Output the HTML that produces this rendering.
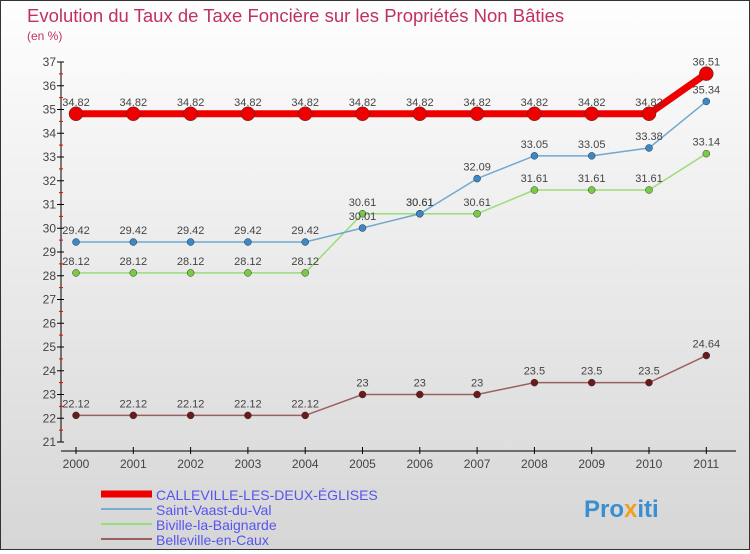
<!DOCTYPE html>
<html><head><meta charset="utf-8"><style>
html,body{margin:0;padding:0}
body{width:750px;height:550px;overflow:hidden;font-family:"Liberation Sans",sans-serif}
#c{position:absolute;left:0;top:0;width:748px;height:548px;border:1px solid #333;background:linear-gradient(#fefefe,#d6d6d6)}
</style></head><body>
<div id="c">
<svg id="s" width="748" height="548" xmlns="http://www.w3.org/2000/svg">
<text x="26" y="21" font-size="18.5" fill="#c0325e">Evolution du Taux de Taxe Foncière sur les Propriétés Non Bâties</text>
<text x="26" y="39" font-size="12" fill="#c0325e">(en %)</text>
<g id="axes"></g><g id="series"></g><g id="legend"></g>
<text x="583" y="516" font-size="24" font-weight="bold" fill="#3a8fd0">Pro<tspan fill="#f0a020">x</tspan>iti</text>
</svg></div>
<script>
const years=["2000","2001","2002","2003","2004","2005","2006","2007","2008","2009","2010","2011"];
const calleville=[34.82,34.82,34.82,34.82,34.82,34.82,34.82,34.82,34.82,34.82,34.82,36.51];
const saintVaast=[29.42,29.42,29.42,29.42,29.42,30.01,30.61,32.09,33.05,33.05,33.38,35.34];
const biville=[28.12,28.12,28.12,28.12,28.12,30.61,30.61,30.61,31.61,31.61,31.61,33.14];
const belleville=[22.12,22.12,22.12,22.12,22.12,23,23,23,23.5,23.5,23.5,24.64];
const yTicks=[21,22,23,24,25,26,27,28,29,30,31,32,33,34,35,36,37];
const names=["CALLEVILLE-LES-DEUX-ÉGLISES","Saint-Vaast-du-Val","Biville-la-Baignarde","Belleville-en-Caux"];
const NS="http://www.w3.org/2000/svg";
function X(i){return 75+i*57.3;}
function Y(v){return 441-(v-21)*23.75;}
function mk(t,a,p){const e=document.createElementNS(NS,t);for(const k in a)e.setAttribute(k,a[k]);p.appendChild(e);return e;}
const ax=document.getElementById('axes');
let e=mk('line',{x1:60,y1:Y(37),x2:60,y2:Y(21),stroke:'#000'},ax);


e=mk('line',{x1:60,y1:450,x2:735,y2:450,stroke:'#000'},ax);


yTicks.forEach(v=>{
 mk('line',{x1:56,y1:Y(v),x2:63,y2:Y(v),stroke:'#000'},ax);
 if(v<37)mk('line',{x1:58,y1:Y(v+0.5),x2:62,y2:Y(v+0.5),stroke:'#e00'},ax);
 const t=mk('text',{x:55,y:Y(v)+4,'font-size':12,fill:'#444','text-anchor':'end'},ax);t.textContent=v;
 
 
});
years.forEach((y,i)=>{
 mk('line',{x1:X(i),y1:446,x2:X(i),y2:453,stroke:'#000'},ax);
 const t=mk('text',{x:X(i),y:467,'font-size':12,fill:'#444','text-anchor':'middle'},ax);t.textContent=y;
 
 
});
const sg=document.getElementById('series');
function draw(vals,col,dot,w,r,name){
 const g=mk('g',{},sg);
 
 
 mk('polyline',{points:vals.map((v,i)=>X(i)+','+Y(v)).join(' '),fill:'none',stroke:col,'stroke-width':w},g);
 vals.forEach((v,i)=>{
  const c=mk('circle',{cx:X(i),cy:Y(v),r:r,fill:dot,stroke:'#333','stroke-width':0.5},g);
  
  
  const t=mk('text',{x:X(i),y:Y(v)-8,'font-size':11,fill:'#444','text-anchor':'middle'},g);t.textContent=v;
  
  
 });
}
draw(belleville,'#9a6060','#6a1a1a',1.5,3.5,'series-belleville');
draw(biville,'#99dd77','#77cc44',1.5,3.5,'series-biville');
draw(saintVaast,'#6fa8d0','#3a88c8',1.5,3.5,'series-saint-vaast');
draw(calleville,'#ee0000','#ee0000',7,7,'series-calleville');
const lg=document.getElementById('legend');
const lc=['#ee0000','#7aaed0','#99dd77','#9a6060'],lw=[7,2,2,2];
names.forEach((n,i)=>{
 const y=493+i*15;
 const g=mk('g',{},lg);
 
 
 mk('line',{x1:100,y1:y,x2:151,y2:y,stroke:lc[i],'stroke-width':lw[i]},g);
 const t=mk('text',{x:155,y:y+6,'font-size':14,fill:'#5555ee'},g);t.textContent=n;
});
</script>
</body></html>
